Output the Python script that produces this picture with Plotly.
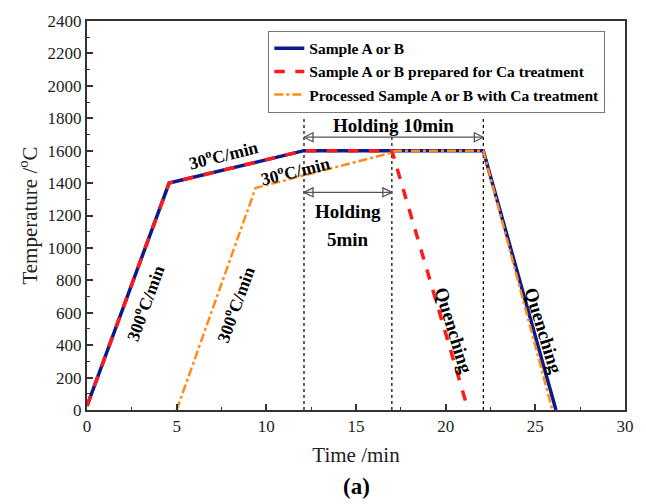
import plotly.graph_objects as go

# Data (time in min, temperature in °C)
a_time = [0, 4.58, 12.1, 22.1, 26.15]
a_temp = [25, 1400, 1600, 1600, 0]

b_time = [0, 4.58, 12.1, 17.0, 21.15]
b_temp = [25, 1400, 1600, 1600, 40]

c_time = [5.0, 9.4, 16.9, 17.2, 22.1, 25.95]
c_temp = [0, 1370, 1585, 1600, 1600, 0]

names = ["Sample A or B", "Sample A or B prepared for Ca treatment",
         "Processed Sample A or B with Ca treatment"]

hold_lines = [12.1, 17.0, 22.1]
hold_top = 1810
hold10_span = [12.1, 22.1]
hold10_y = 1683
hold5_span = [12.1, 17.0]
hold5_y = 1343

FONT = "Liberation Serif"

fig = go.Figure()
fig.add_trace(go.Scatter(x=a_time, y=a_temp, mode="lines", name=names[0],
                         line=dict(color="#0a1a8c", width=3.5)))
fig.add_trace(go.Scatter(x=b_time, y=b_temp, mode="lines", name=names[1],
                         line=dict(color="#ff1a1a", width=3.5, dash="dash")))
fig.add_trace(go.Scatter(x=c_time, y=c_temp, mode="lines", name=names[2],
                         line=dict(color="#ff8c1a", width=2.5, dash="dashdot")))

for xv in hold_lines:
    fig.add_shape(type="line", x0=xv, x1=xv, y0=0, y1=hold_top, xref="x", yref="y",
                  line=dict(color="black", width=1.2, dash="dot"), layer="below")

# double-headed holding arrows
for span, yv in [(hold10_span, hold10_y), (hold5_span, hold5_y)]:
    fig.add_trace(go.Scatter(x=span, y=[yv, yv], mode="lines+markers", showlegend=False,
                             hoverinfo="skip",
                             line=dict(color="#555555", width=1.2),
                             marker=dict(symbol=["arrow-left-open", "arrow-right-open"],
                                         size=9, color="#555555",
                                         line=dict(color="#555555", width=1.3))))

ann_font = dict(family=FONT, size=19, color="black")
rate_font = dict(family=FONT, size=17.5, color="black")
fig.add_annotation(x=17.1, y=1755, text="<b>Holding 10min</b>", showarrow=False, font=ann_font)
fig.add_annotation(x=14.55, y=1222, text="<b>Holding</b>", showarrow=False, font=ann_font)
fig.add_annotation(x=14.55, y=1055, text="<b>5min</b>", showarrow=False, font=ann_font)

fig.add_annotation(x=7.6, y=1580, text="<b>30<sup>o</sup>C/min</b>", showarrow=False,
                   textangle=-14, font=rate_font)
fig.add_annotation(x=11.6, y=1480, text="<b>30<sup>o</sup>C/min</b>", showarrow=False,
                   textangle=-14, font=rate_font)
fig.add_annotation(x=3.2, y=660, text="<b>300<sup>o</sup>C/min</b>", showarrow=False,
                   textangle=-70, font=rate_font)
fig.add_annotation(x=8.2, y=650, text="<b>300<sup>o</sup>C/min</b>", showarrow=False,
                   textangle=-70, font=rate_font)
fig.add_annotation(x=20.45, y=490, text="<b>Quenching</b>", showarrow=False,
                   textangle=73, font=ann_font)
fig.add_annotation(x=25.45, y=490, text="<b>Quenching</b>", showarrow=False,
                   textangle=73, font=ann_font)

fig.add_annotation(x=0.5, y=-0.197, xref="paper", yref="paper", text="<b>(a)</b>",
                   showarrow=False, yanchor="middle",
                   font=dict(family=FONT, size=23, color="black"))

axis_common = dict(showline=True, linecolor="#333333", linewidth=2, mirror=True,
                   ticks="inside", ticklen=6, tickwidth=1.5, tickcolor="#333333",
                   showgrid=False, zeroline=False,
                   tickfont=dict(family=FONT, size=17, color="#222222"))

fig.update_xaxes(range=[0, 30], tick0=0, dtick=5,
                 minor=dict(ticks="inside", ticklen=3, tickwidth=1.2, dtick=2.5,
                            tickcolor="#333333"),
                 title=dict(text="Time /min", font=dict(family=FONT, size=21, color="#222222"),
                            standoff=12),
                 **axis_common)
fig.update_yaxes(range=[0, 2400], tick0=0, dtick=200,
                 minor=dict(ticks="inside", ticklen=3, tickwidth=1.2, dtick=100,
                            tickcolor="#333333"),
                 title=dict(text="Temperature /<sup>o</sup>C",
                            font=dict(family=FONT, size=21, color="#222222"), standoff=4),
                 **axis_common)

fig.update_layout(
    width=646, height=504,
    margin=dict(l=87, r=20, t=15, b=94),
    paper_bgcolor="white", plot_bgcolor="white",
    showlegend=True,
    legend=dict(x=0.337, y=0.975, xanchor="left", yanchor="top",
                bgcolor="white", bordercolor="#777777", borderwidth=1,
                font=dict(family=FONT, size=15.5, color="black"),
                tracegroupgap=0, itemwidth=30),
)
# bold legend text
for tr in fig.data:
    if tr.name:
        tr.name = "<b>" + tr.name + "</b>"

fig.write_html("out.html")
